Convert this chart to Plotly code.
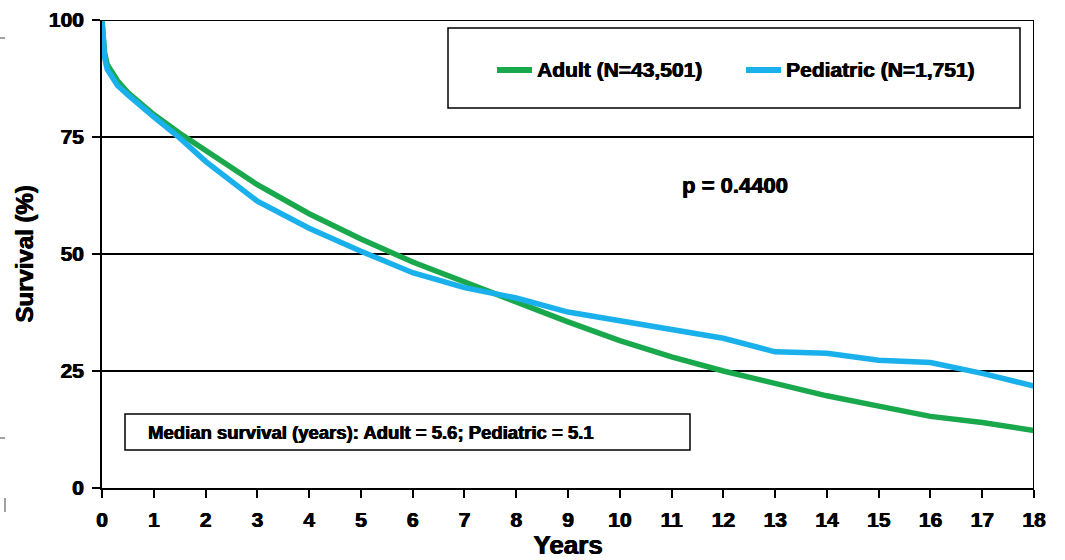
import plotly.graph_objects as go

# Kaplan-Meier style survival curves (years vs. % surviving)
years = [0, 0.02, 0.05, 0.1, 0.2, 0.3, 0.5, 0.75, 1, 1.5, 2, 3, 4, 5, 6, 7, 8,
         9, 10, 11, 12, 13, 14, 15, 16, 17, 18]
adult_surv = [100, 96, 93, 90.5, 88.5, 87, 84.5, 82, 79.8, 75.8, 72.2, 64.8, 58.6,
              53.2, 48.3, 44, 39.6, 35.5, 31.5, 28, 25, 22.3, 19.7, 17.5, 15.3, 14, 12.3]
peds_surv = [100, 95.5, 92, 89.5, 87.5, 86, 84, 81.5, 79.3, 74.8, 69.8, 61.3, 55.5,
             50.6, 46, 42.8, 40.6, 37.6, 35.8, 33.8, 32, 29.1, 28.8, 27.3, 26.8, 24.5, 21.8]

x_ticks = list(range(0, 19))
y_ticks = [0, 25, 50, 75, 100]

adult_label = "Adult (N=43,501)"
peds_label = "Pediatric (N=1,751)"
median_note = "Median survival (years): Adult = 5.6; Pediatric = 5.1"
p_note = "p = 0.4400"

GREEN = "#1aa84c"
BLUE = "#19b0ec"
FONT = "Liberation Sans, Arial, sans-serif"
HEAVY = "0.6px 0 0 black, -0.3px 0 0 black"


def bold(size):
    return dict(size=size, family=FONT, color="black", weight="bold", shadow=HEAVY)


fig = go.Figure()
fig.add_trace(go.Scatter(x=years, y=adult_surv, mode="lines", name=adult_label,
                         line=dict(color=GREEN, width=5.5), showlegend=False))
fig.add_trace(go.Scatter(x=years, y=peds_surv, mode="lines", name=peds_label,
                         line=dict(color=BLUE, width=5.5), showlegend=False))

fig.update_layout(
    width=1065, height=560,
    margin=dict(l=102, r=31, t=20, b=72),
    paper_bgcolor="white", plot_bgcolor="white",
    font=dict(family=FONT, color="black"),
)
fig.update_xaxes(
    range=[0, 18], tickvals=x_ticks, ticks="outside", ticklen=8, tickwidth=2,
    tickcolor="black", showline=True, linecolor="black", linewidth=2,
    showgrid=False, zeroline=False, ticklabelstandoff=4, automargin=False,
    tickfont=bold(21),
    title=dict(text="Years", font=bold(26), standoff=6),
)
fig.update_yaxes(
    range=[0, 100], tickvals=y_ticks, ticks="outside", ticklen=8, tickwidth=2,
    tickcolor="black", showline=True, linecolor="black", linewidth=2,
    showgrid=True, gridcolor="black", gridwidth=1.5, zeroline=False,
    ticklabelstandoff=4, automargin=False,
    tickfont=bold(21),
    title=dict(text="Survival (%)", font=bold(24), standoff=8),
)

shapes = [
    # top and right frame edges
    dict(type="line", xref="x", yref="y", x0=0, x1=18, y0=100, y1=100,
         line=dict(color="black", width=2)),
    dict(type="line", xref="x", yref="y", x0=18, x1=18, y0=0, y1=100,
         line=dict(color="black", width=2)),
    # legend box
    dict(type="rect", xref="paper", yref="paper",
         x0=(448 - 102) / 932, x1=(1020 - 102) / 932,
         y0=(488 - 108) / 468, y1=(488 - 28) / 468,
         line=dict(color="black", width=1.5), fillcolor="white"),
    # legend line samples
    dict(type="line", xref="paper", yref="paper",
         x0=(497 - 102) / 932, x1=(532 - 102) / 932,
         y0=(488 - 70) / 468, y1=(488 - 70) / 468,
         line=dict(color=GREEN, width=6)),
    dict(type="line", xref="paper", yref="paper",
         x0=(746 - 102) / 932, x1=(781 - 102) / 932,
         y0=(488 - 70) / 468, y1=(488 - 70) / 468,
         line=dict(color=BLUE, width=6)),
    # median survival box
    dict(type="rect", xref="paper", yref="paper",
         x0=(125 - 102) / 932, x1=(690 - 102) / 932,
         y0=(488 - 450) / 468, y1=(488 - 414) / 468,
         line=dict(color="black", width=1.5), fillcolor="white"),
]
# small marks at the left page edge
for y0, y1, x0, x1 in [(38, 38, 0, 5), (438, 438, 0, 5), (498, 512, 5, 5)]:
    shapes.append(dict(type="line", xref="paper", yref="paper",
                       x0=(x0 - 102) / 932, x1=(x1 - 102) / 932,
                       y0=(488 - y0) / 468, y1=(488 - y1) / 468,
                       line=dict(color="#444", width=1)))
fig.update_layout(shapes=shapes)

fig.add_annotation(xref="paper", yref="paper", x=(535 - 102) / 932, y=(488 - 70) / 468,
                   text=adult_label, showarrow=False, xanchor="left", yanchor="middle",
                   font=bold(21))
fig.add_annotation(xref="paper", yref="paper", x=(784 - 102) / 932, y=(488 - 70) / 468,
                   text=peds_label, showarrow=False, xanchor="left", yanchor="middle",
                   font=bold(21))
fig.add_annotation(xref="paper", yref="paper", x=(735 - 102) / 932, y=(488 - 186) / 468,
                   text=p_note, showarrow=False, xanchor="center", yanchor="middle",
                   font=bold(22))
fig.add_annotation(xref="paper", yref="paper", x=(146 - 102) / 932, y=(488 - 432) / 468,
                   text=median_note, showarrow=False, xanchor="left", yanchor="middle",
                   font=bold(18.5))

fig.write_html("out.html")
